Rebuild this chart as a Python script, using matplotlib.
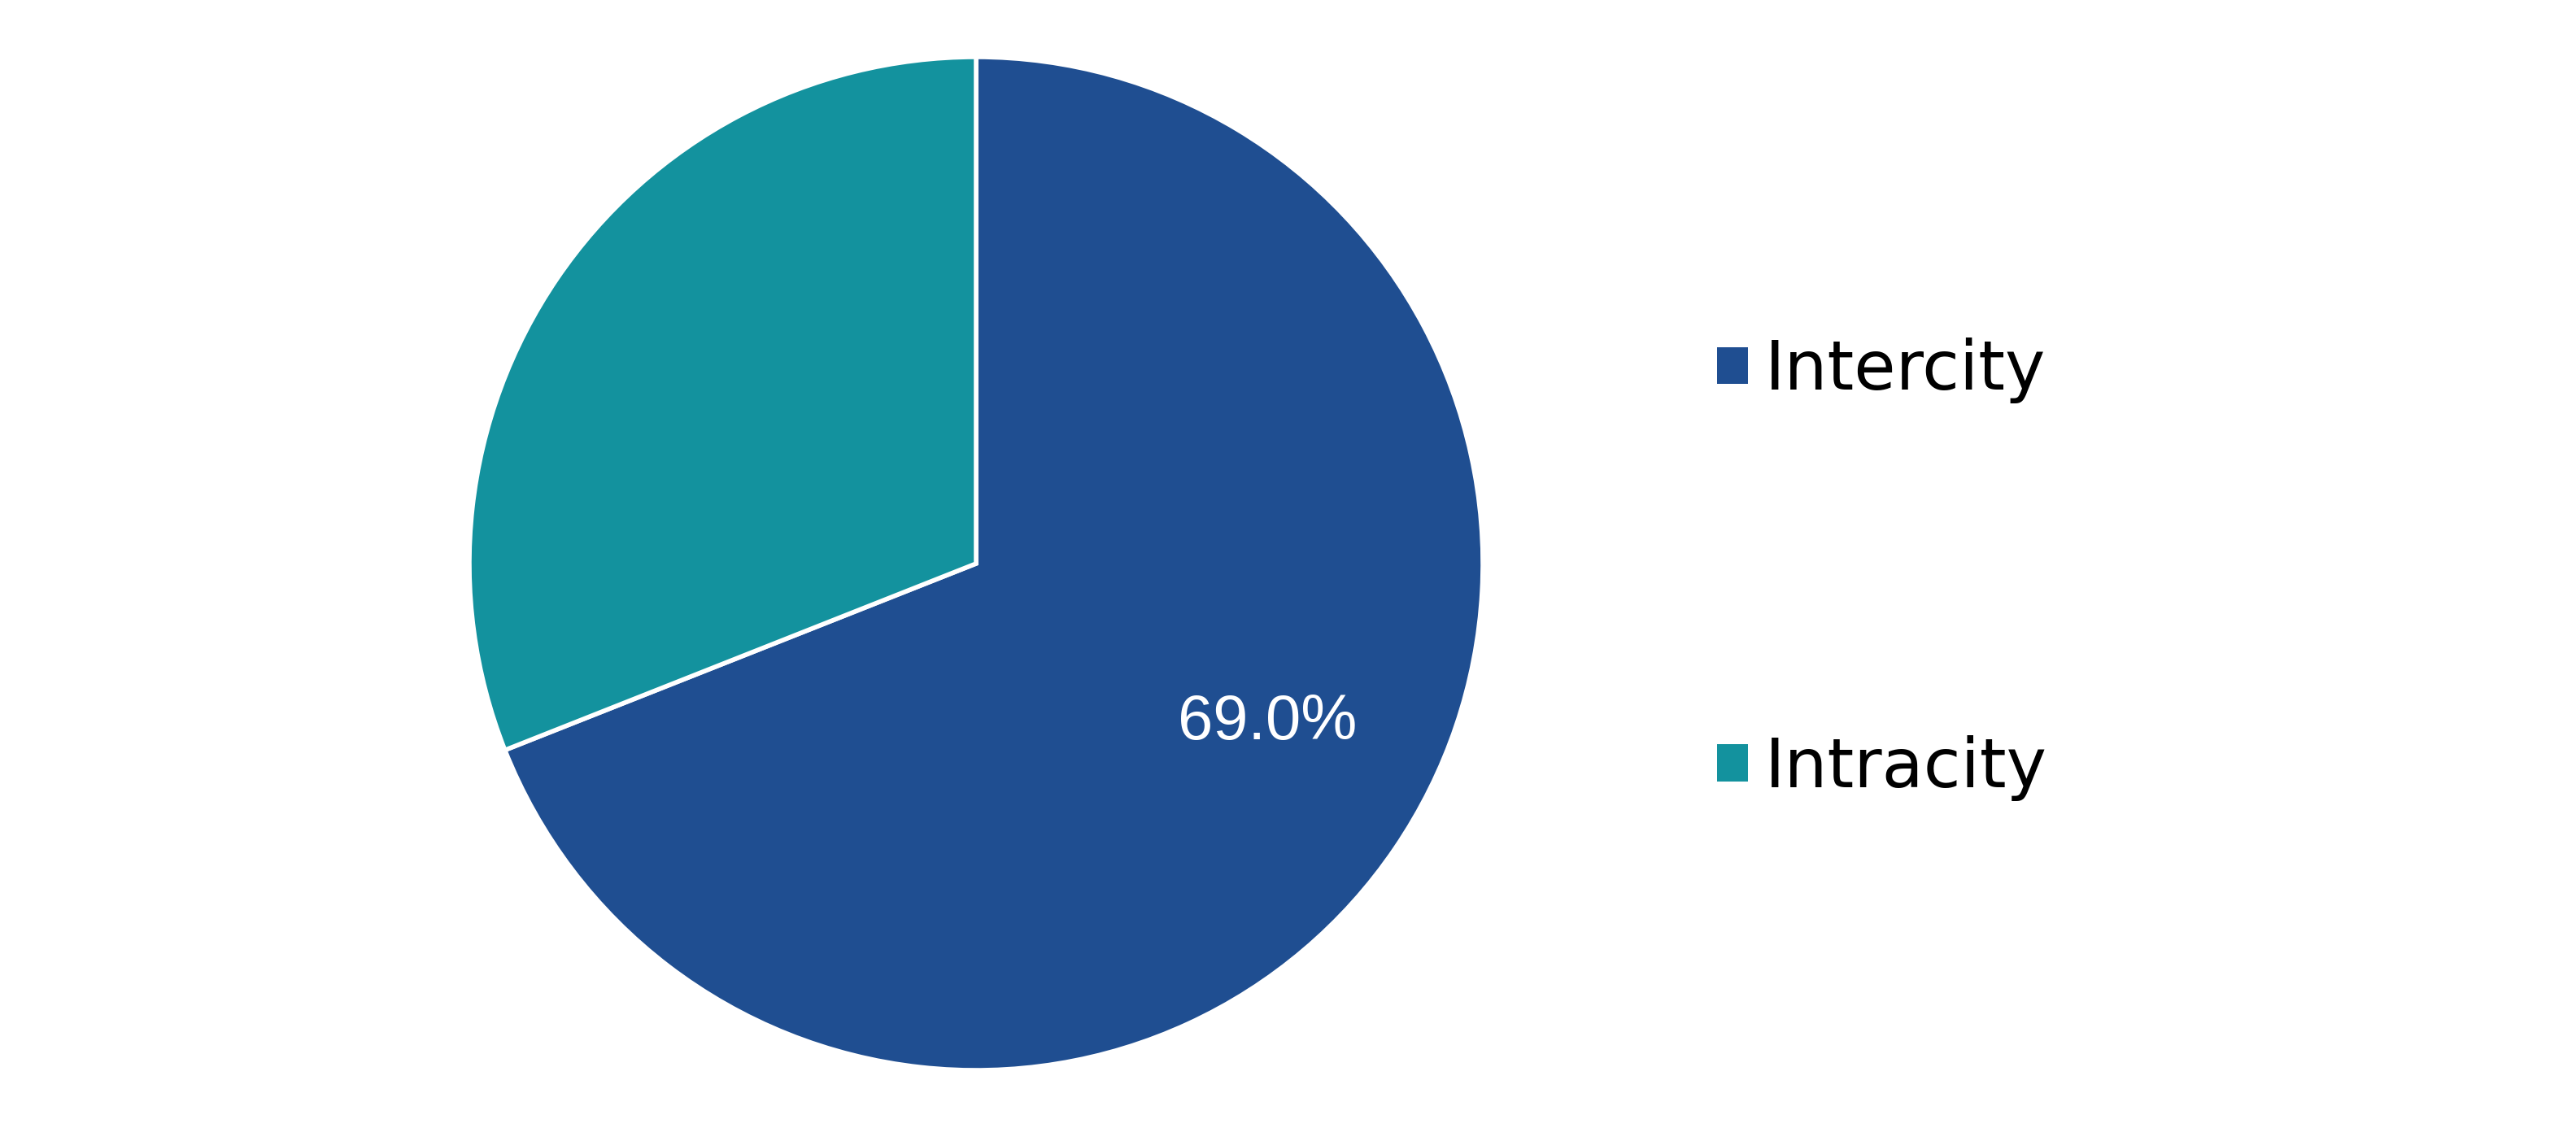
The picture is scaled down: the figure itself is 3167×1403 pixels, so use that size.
import matplotlib
matplotlib.use("Agg")
import matplotlib.pyplot as plt
import numpy as np
from matplotlib.patches import Patch

categories = ["Intercity", "Intracity"]
values = [69.0, 31.0]
colors = ["#1F4E91", "#13929E"]

W, H = 3167, 1403
fig = plt.figure(figsize=(W / 100, H / 100), dpi=100)
cx, cy, r = 1200, 693, 623
ax = fig.add_axes([(cx - r) / W, (H - cy - r) / H, 2 * r / W, 2 * r / H])

wedges, _ = ax.pie(values, colors=colors, startangle=90, counterclock=False,
                   radius=1.0, wedgeprops=dict(edgecolor="white", linewidth=4.0))
ax.set_xlim(-1, 1)
ax.set_ylim(-1, 1)
ax.set_aspect("equal")

# percentage label on the large slice
w = wedges[0]
ang = np.deg2rad((w.theta1 + w.theta2) / 2 + 5.6)
d = 0.655
ax.text(d * np.cos(ang), d * np.sin(ang), f"{values[0]:.1f}%", color="white",
        fontsize=56, family=["Liberation Sans", "DejaVu Sans"], ha="center", va="center")

handles = [Patch(facecolor=c, edgecolor="none") for c in colors]
fig.legend(handles, categories, loc="center left", bbox_to_anchor=(2111 / W, 1 - 700 / H),
           frameon=False, handlelength=0.46, handleheight=0.46,
           handletextpad=0.25, labelspacing=4.89, borderpad=0, borderaxespad=0,
           prop=dict(family="DejaVu Sans", size=60))

fig.savefig("out.png", dpi=100, facecolor="white")
